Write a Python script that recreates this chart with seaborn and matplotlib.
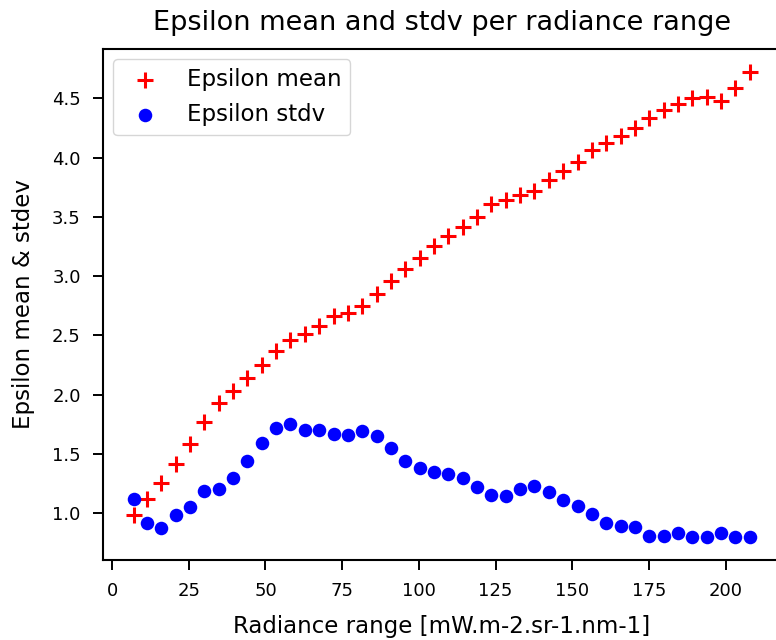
import matplotlib
matplotlib.use("Agg")
import matplotlib.pyplot as plt
import seaborn as sns
import pandas as pd

radiance = [7.1, 11.4, 16.1, 20.8, 25.4, 30.1, 34.8, 39.5, 44.1, 48.8, 53.5,
            58.1, 62.8, 67.5, 72.2, 76.9, 81.5, 86.2, 90.9, 95.5, 100.2, 104.9,
            109.6, 114.3, 119.0, 123.6, 128.3, 133.0, 137.6, 142.3, 147.0, 151.7,
            156.4, 161.0, 165.7, 170.4, 175.0, 179.7, 184.4, 189.1, 193.8, 198.4,
            203.1, 207.8]
eps_mean = [0.98, 1.12, 1.25, 1.41, 1.58, 1.77, 1.93, 2.03, 2.14, 2.25, 2.37,
            2.46, 2.51, 2.58, 2.66, 2.69, 2.75, 2.85, 2.96, 3.06, 3.15, 3.25,
            3.34, 3.41, 3.50, 3.61, 3.64, 3.68, 3.72, 3.81, 3.89, 3.96, 4.06,
            4.12, 4.18, 4.25, 4.33, 4.40, 4.45, 4.50, 4.51, 4.48, 4.59, 4.72]
eps_stdv = [1.12, 0.92, 0.87, 0.98, 1.05, 1.19, 1.20, 1.30, 1.44, 1.59, 1.72,
            1.75, 1.70, 1.70, 1.67, 1.66, 1.69, 1.65, 1.55, 1.44, 1.38, 1.35,
            1.33, 1.30, 1.22, 1.15, 1.14, 1.20, 1.23, 1.18, 1.11, 1.06, 0.99,
            0.92, 0.89, 0.88, 0.81, 0.81, 0.83, 0.80, 0.80, 0.83, 0.80, 0.80]
x_ticks = [0, 25, 50, 75, 100, 125, 150, 175, 200]
y_ticks = [1.0, 1.5, 2.0, 2.5, 3.0, 3.5, 4.0, 4.5]

df = pd.DataFrame({"radiance": radiance, "mean": eps_mean, "stdv": eps_stdv})

plt.rcParams["font.family"] = ["DejaVu Sans"]
fig = plt.figure(figsize=(7.76, 6.40), dpi=100)
W, H = 776, 640
left, right, top, bottom = 103, 780.6, 49, 560
ax = fig.add_axes([left / W, (H - bottom) / H, (right - left) / W, (bottom - top) / H])

sns.scatterplot(data=df, x="radiance", y="mean", marker="+", color="red",
                s=130, linewidth=2.2, label="Epsilon mean", ax=ax)
sns.scatterplot(data=df, x="radiance", y="stdv", marker="o", color="blue",
                s=95, linewidth=0, label="Epsilon stdv", ax=ax)

ax.set_xticks(x_ticks)
ax.set_yticks(y_ticks)
ax.set_yticklabels([f"{v:.1f}" for v in y_ticks])
ax.tick_params(labelsize=13, length=7, width=1.4, pad=9)
for sp in ax.spines.values():
    sp.set_linewidth(1.5)
ax.set_xlabel("Radiance range [mW.m-2.sr-1.nm-1]", fontsize=16.5, labelpad=11)
ax.set_ylabel("Epsilon mean & stdev", fontsize=16.5, labelpad=12)
ax.set_title("Epsilon mean and stdv per radiance range", fontsize=19.5, pad=14)
ax.legend(loc="upper left", fontsize=16.5, borderaxespad=0.45)

fig.savefig("out.png", dpi=100)
